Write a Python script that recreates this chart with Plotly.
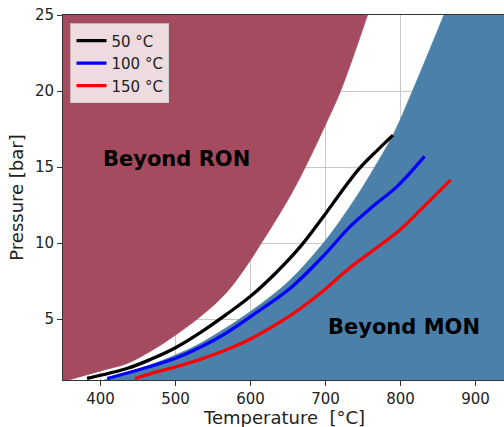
import plotly.graph_objects as go

# ---------------- data ----------------
# Knock-limit boundaries (temperature [°C], pressure [bar])
ron_T = [357, 400, 436, 467, 500, 533, 567, 596, 613, 631, 655, 676, 700, 720, 756]
ron_P = [1.0, 1.6, 2.1, 2.9, 3.96, 5.17, 6.7, 8.6, 9.9, 11.3, 13.3, 15.3, 17.8, 20.0, 25.0]

mon_T = [405, 467, 500, 533, 600, 653, 698, 720, 742, 762, 791, 816, 858]
mon_P = [1.0, 2.0, 2.64, 3.4, 5.5, 7.58, 10.05, 11.5, 13.1, 14.7, 17.2, 20.0, 25.0]

# Curves for intake temperatures
t50_T = [382, 436, 467, 500, 533, 567, 600, 633, 667, 698, 720, 745, 769, 790]
t50_P = [1.1, 1.77, 2.36, 3.12, 4.11, 5.28, 6.5, 8.0, 9.8, 11.8, 13.3, 14.9, 16.1, 17.1]

t100_T = [409, 458, 500, 533, 567, 600, 653, 698, 733, 764, 796, 832]
t100_P = [1.1, 1.77, 2.43, 3.15, 4.07, 5.17, 7.03, 9.2, 11.1, 12.45, 13.75, 15.7]

t150_T = [446, 467, 500, 533, 567, 600, 644, 667, 698, 729, 760, 800, 831, 867]
t150_P = [1.1, 1.42, 1.86, 2.36, 2.97, 3.7, 4.95, 5.72, 6.9, 8.24, 9.4, 10.9, 12.4, 14.16]

series_names = ["50 °C", "100 °C", "150 °C"]
series_colors = ["black", "blue", "red"]

x_ticks = [400, 500, 600, 700, 800, 900]
y_ticks = [5, 10, 15, 20, 25]

x_title = "Temperature\u00a0 [°C]"
y_title = "Pressure [bar]"

# ---------------- styling ----------------
FONT = "DejaVu Sans"
RON_COLOR = "rgb(165,75,95)"
MON_COLOR = "rgb(74,128,170)"
GRID = "rgba(190,190,190,0.85)"
X_RANGE = [350, 938]
Y_RANGE = [1, 25]
FAR_RIGHT = 1100
SMOOTH = 1.0

fig = go.Figure()

# Beyond RON region (fill left of the boundary)
fig.add_trace(go.Scatter(
    x=ron_T, y=ron_P, mode="lines",
    line=dict(color=RON_COLOR, width=0.8, shape="spline", smoothing=SMOOTH),
    fill="tozerox", fillcolor=RON_COLOR,
    showlegend=False, hoverinfo="skip"))

# invisible right edge for the MON fill
fig.add_trace(go.Scatter(
    x=[FAR_RIGHT, FAR_RIGHT], y=[Y_RANGE[0], Y_RANGE[1] + 5], mode="lines",
    line=dict(width=0, color=MON_COLOR),
    showlegend=False, hoverinfo="skip"))

# Beyond MON region (fill right of the boundary)
fig.add_trace(go.Scatter(
    x=mon_T, y=mon_P, mode="lines",
    line=dict(color=MON_COLOR, width=0.8, shape="spline", smoothing=SMOOTH),
    fill="tonextx", fillcolor=MON_COLOR,
    showlegend=False, hoverinfo="skip"))

for name, col, xs, ys in zip(series_names, series_colors,
                             [t50_T, t100_T, t150_T], [t50_P, t100_P, t150_P]):
    fig.add_trace(go.Scatter(
        x=xs, y=ys, mode="lines", name=name,
        line=dict(color=col, width=3.3, shape="spline", smoothing=SMOOTH)))

fig.add_annotation(x=400, y=15.5, xref="x", yref="y", text="<b>Beyond RON</b>",
                   showarrow=False, xanchor="left", yanchor="middle",
                   font=dict(family=FONT, size=21, color="black"))
fig.add_annotation(x=700, y=4.47, xref="x", yref="y", text="<b>Beyond MON</b>",
                   showarrow=False, xanchor="left", yanchor="middle",
                   font=dict(family=FONT, size=21, color="black"))
# x-axis title placed as an annotation below the tick labels
fig.add_annotation(x=0.5, y=-0.102, xref="paper", yref="paper", text=x_title,
                   showarrow=False, xanchor="center", yanchor="middle",
                   font=dict(family=FONT, size=18, color="#222222"))

axis_common = dict(
    showgrid=True, gridcolor=GRID, gridwidth=1,
    showline=True, linecolor="#333333", linewidth=1,
    ticks="outside", ticklen=5, tickwidth=1, tickcolor="#333333",
    tickfont=dict(family=FONT, size=15, color="#222222"),
    zeroline=False, layer="above traces", automargin=False,
)

fig.update_layout(
    width=504, height=427,
    margin=dict(l=63, r=0, t=15, b=47),
    paper_bgcolor="white", plot_bgcolor="white",
    font=dict(family=FONT, color="#222222"),
    xaxis=dict(range=X_RANGE, tickvals=x_ticks, mirror=True, **axis_common),
    yaxis=dict(range=Y_RANGE, tickvals=y_ticks, mirror=False,
               title=dict(text=y_title, standoff=6,
                          font=dict(family=FONT, size=18, color="#222222")),
               **axis_common),
    legend=dict(x=0.017, y=0.977, xanchor="left", yanchor="top",
                traceorder="normal",
                bgcolor="rgba(255,255,255,0.8)",
                bordercolor="rgba(204,204,204,0.8)", borderwidth=1,
                font=dict(family=FONT, size=15, color="#222222"),
                tracegroupgap=0),
    showlegend=True,
)

fig.write_html("out.html")
